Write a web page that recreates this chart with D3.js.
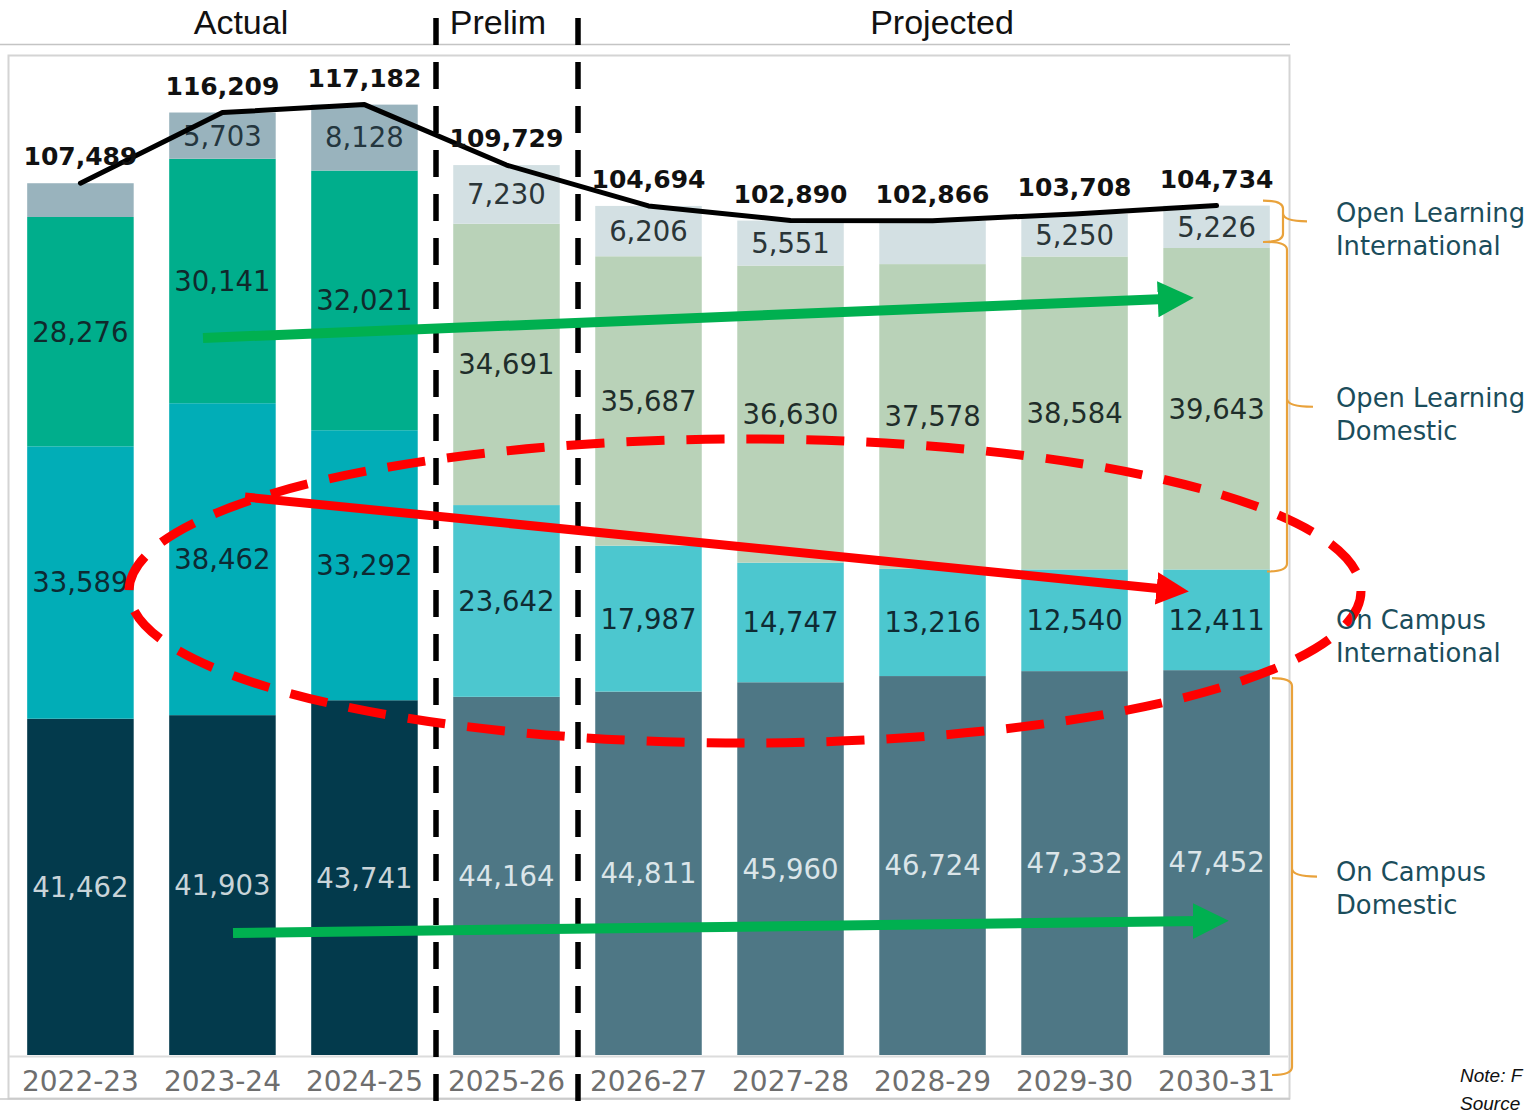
<!DOCTYPE html>
<html>
<head>
<meta charset="utf-8">
<script src="https://cdn.jsdelivr.net/npm/d3@7"></script>
<style>
  html, body { margin: 0; padding: 0; background: #ffffff; overflow: hidden; }
  svg { display: block; }
</style>
</head>
<body>
<svg id="chart" width="1529" height="1117"></svg>
<script>
// Enrolment by delivery mode, actual / preliminary / projected
const years = ["2022-23", "2023-24", "2024-25", "2025-26", "2026-27", "2027-28", "2028-29", "2029-30", "2030-31"];
const phase = ["actual", "actual", "actual", "prelim", "projected", "projected", "projected", "projected", "projected"];

const onCampusDomestic      = [41462, 41903, 43741, 44164, 44811, 45960, 46724, 47332, 47452];
const onCampusInternational = [33589, 38462, 33292, 23642, 17987, 14747, 13216, 12540, 12411];
const openLearningDomestic  = [28276, 30141, 32021, 34691, 35687, 36630, 37578, 38584, 39643];
const openLearningIntl      = [4162, 5703, 8128, 7230, 6206, 5551, 5348, 5250, 5226];
const totals                = [107489, 116209, 117182, 109729, 104694, 102890, 102866, 103708, 104734];

// Segments whose value is printed inside the bar
const showOpenLearningIntlLabel = [false, true, true, true, true, true, false, true, true];

const phaseHeaders = ["Actual", "Prelim", "Projected"];
const seriesNames = [["On Campus", "Domestic"], ["On Campus", "International"], ["Open Learning", "Domestic"], ["Open Learning", "International"]];

const series = [
  { key: "ocd", values: onCampusDomestic,      fill: { actual: "#033a4c", other: "#4e7785" }, text: { actual: "#c9d4d9", other: "#dbe5e9" }, shown: years.map(() => true) },
  { key: "oci", values: onCampusInternational, fill: { actual: "#01adb7", other: "#4cc7cf" }, text: { actual: "#0d2a33", other: "#0f2b33" }, shown: years.map(() => true) },
  { key: "old", values: openLearningDomestic,  fill: { actual: "#00ae8c", other: "#b9d2b8" }, text: { actual: "#102a2c", other: "#1f2d2a" }, shown: years.map(() => true) },
  { key: "oli", values: openLearningIntl,      fill: { actual: "#99b3bd", other: "#d3e0e3" }, text: { actual: "#24363e", other: "#2a3538" }, shown: showOpenLearningIntlLabel }
];

const svg = d3.select("#chart");
const fmt = d3.format(",");

const x = d3.scaleBand().domain(years).range([9, 1288]).paddingInner(0.25).paddingOuter(0.128);
const y = d3.scaleLinear().domain([0, 123300]).range([1055, 55]);

// Frame
svg.append("line").attr("x1", 0).attr("x2", 1290).attr("y1", 44.5).attr("y2", 44.5)
  .attr("stroke", "#c4c4c4").attr("stroke-width", 1.5);
svg.append("rect").attr("x", 8.5).attr("y", 55.5).attr("width", 1281).attr("height", 1043)
  .attr("fill", "none").attr("stroke", "#d4d4d4").attr("stroke-width", 2);
svg.append("line").attr("x1", 0).attr("x2", 1290).attr("y1", 1099).attr("y2", 1099)
  .attr("stroke", "#c8c8c8").attr("stroke-width", 1.5);
svg.append("line").attr("x1", 9).attr("x2", 1288).attr("y1", 1056.5).attr("y2", 1056.5)
  .attr("stroke", "#dcdcdc").attr("stroke-width", 2);

// Stacked bars
const stackRows = years.map((yr, i) => {
  const row = { year: yr, i };
  series.forEach(s => { row[s.key] = s.values[i]; });
  return row;
});
const stacked = d3.stack().keys(series.map(s => s.key))(stackRows);

const bars = svg.append("g");
stacked.forEach((layer, li) => {
  const s = series[li];
  bars.append("g").selectAll("rect").data(layer).join("rect")
    .attr("x", d => x(d.data.year))
    .attr("width", x.bandwidth())
    .attr("y", d => y(d[1]))
    .attr("height", d => y(d[0]) - y(d[1]))
    .attr("fill", d => phase[d.data.i] === "actual" ? s.fill.actual : s.fill.other);
});

// Values inside segments
const labels = svg.append("g").attr("font-family", "DejaVu Sans, Verdana, sans-serif").attr("font-size", 27.5);
stacked.forEach((layer, li) => {
  const s = series[li];
  labels.append("g").selectAll("text").data(layer.filter(d => s.shown[d.data.i])).join("text")
    .attr("x", d => x(d.data.year) + x.bandwidth() / 2)
    .attr("y", d => (y(d[0]) + y(d[1])) / 2)
    .attr("dy", "0.36em")
    .attr("text-anchor", "middle")
    .attr("fill", d => phase[d.data.i] === "actual" ? s.text.actual : s.text.other)
    .text(d => fmt(d.data[s.key]));
});

// Category axis
const axis = svg.append("g").attr("transform", "translate(0,1064)")
  .call(d3.axisBottom(x).tickSize(0).tickPadding(0));
axis.select(".domain").remove();
axis.selectAll("text")
  .attr("font-family", "DejaVu Sans, Verdana, sans-serif")
  .attr("font-size", 28)
  .attr("fill", "#6e6e6e")
  .attr("dy", "0.95em");

// Total enrolment line
const totalLine = d3.line()
  .x((d, i) => x(years[i]) + x.bandwidth() / 2)
  .y(d => y(d))
  .curve(d3.curveLinear);
svg.append("path").datum(totals)
  .attr("d", totalLine)
  .attr("fill", "none").attr("stroke", "#000").attr("stroke-width", 5)
  .attr("stroke-linecap", "round").attr("stroke-linejoin", "round");

svg.append("g").selectAll("text").data(totals).join("text")
  .attr("x", (d, i) => x(years[i]) + x.bandwidth() / 2)
  .attr("y", d => y(d) - 18)
  .attr("text-anchor", "middle")
  .attr("font-family", "DejaVu Sans, Verdana, sans-serif")
  .attr("font-weight", "bold")
  .attr("font-size", 25)
  .attr("fill", "#111")
  .text(d => fmt(d));

// Phase dividers and headers
const dividerX = [436, 578];
svg.append("g").selectAll("line").data(dividerX).join("line")
  .attr("x1", d => d).attr("x2", d => d).attr("y1", 18).attr("y2", 1117)
  .attr("stroke", "#000").attr("stroke-width", 5.5).attr("stroke-dasharray", "27 17");

const headerX = [241, 498, 942];
svg.append("g").selectAll("text").data(phaseHeaders).join("text")
  .attr("x", (d, i) => headerX[i]).attr("y", 34)
  .attr("text-anchor", "middle")
  .attr("font-family", "Liberation Sans, Arial, sans-serif")
  .attr("font-size", 34)
  .attr("fill", "#111")
  .text(d => d);

// Annotation arrows
const defs = svg.append("defs");
function marker(id, color) {
  defs.append("marker").attr("id", id)
    .attr("viewBox", "0 0 10 10").attr("refX", 2).attr("refY", 5)
    .attr("markerWidth", 3.6).attr("markerHeight", 3.8).attr("markerUnits", "strokeWidth")
    .attr("orient", "auto")
    .append("path").attr("d", "M0,0 L10,5 L0,10 Z").attr("fill", color);
}
marker("headGreen", "#00b050");
marker("headRed", "#ff0000");

const arrows = [
  { from: [203, 338], to: [1165, 299], color: "#00b050", head: "headGreen", w: 10 },
  { from: [233, 933], to: [1200, 921], color: "#00b050", head: "headGreen", w: 10 },
  { from: [245, 497], to: [1163, 589], color: "#ff0000", head: "headRed", w: 9 }
];
svg.append("g").selectAll("line").data(arrows).join("line")
  .attr("x1", d => d.from[0]).attr("y1", d => d.from[1])
  .attr("x2", d => d.to[0]).attr("y2", d => d.to[1])
  .attr("stroke", d => d.color).attr("stroke-width", d => d.w)
  .attr("marker-end", d => `url(#${d.head})`);

// Dashed ellipse around the on-campus international decline
svg.append("ellipse")
  .attr("cx", 745).attr("cy", 591).attr("rx", 616).attr("ry", 152)
  .attr("fill", "none").attr("stroke", "#ff0000").attr("stroke-width", 9)
  .attr("stroke-dasharray", "38 22");

// Braces and series names on the right
const last = stacked.map(layer => layer[layer.length - 1]);
const braceSpecs = [
  { top: y(last[3][1]) - 5, bottom: y(last[3][0]) - 6, x: 1283, tip: 1307 },
  { top: y(last[2][1]) - 6, bottom: y(last[2][0]) + 2, x: 1287, tip: 1313 },
  { top: y(last[0][1]) + 8, bottom: y(last[0][0]) + 20, x: 1292, tip: 1317 }
];
function bracePath(b) {
  const m = (b.top + b.bottom) / 2, r = 8, xl = b.x - 20;
  return `M${xl},${b.top} Q${b.x},${b.top} ${b.x},${b.top + r} L${b.x},${m - r} Q${b.x},${m} ${b.tip},${m}` +
         ` M${b.x},${m - r} Q${b.x},${m} ${b.x},${m + r}` +
         ` L${b.x},${b.bottom - r} Q${b.x},${b.bottom} ${xl},${b.bottom}`;
}
svg.append("g").selectAll("path").data(braceSpecs).join("path")
  .attr("d", bracePath).attr("fill", "none").attr("stroke", "#e9a23b").attr("stroke-width", 2.2);

const nameY = [881, 629, 407, 222];
const names = svg.append("g")
  .attr("font-family", "DejaVu Sans, Tahoma, sans-serif").attr("font-size", 25.8).attr("fill", "#1b4d5b");
seriesNames.forEach((lines, i) => {
  const t = names.append("text").attr("x", 1336).attr("y", nameY[i]);
  lines.forEach((ln, j) => t.append("tspan").attr("x", 1336).attr("dy", j === 0 ? 0 : 33).text(ln));
});

// Footnote at the lower right
const foot = svg.append("g").attr("font-family", "Liberation Sans, Arial, sans-serif")
  .attr("font-style", "italic").attr("font-size", 19).attr("fill", "#111");
foot.append("text").attr("x", 1460).attr("y", 1082).text("Note: F");
foot.append("text").attr("x", 1460).attr("y", 1110).text("Source");
</script>
</body>
</html>
